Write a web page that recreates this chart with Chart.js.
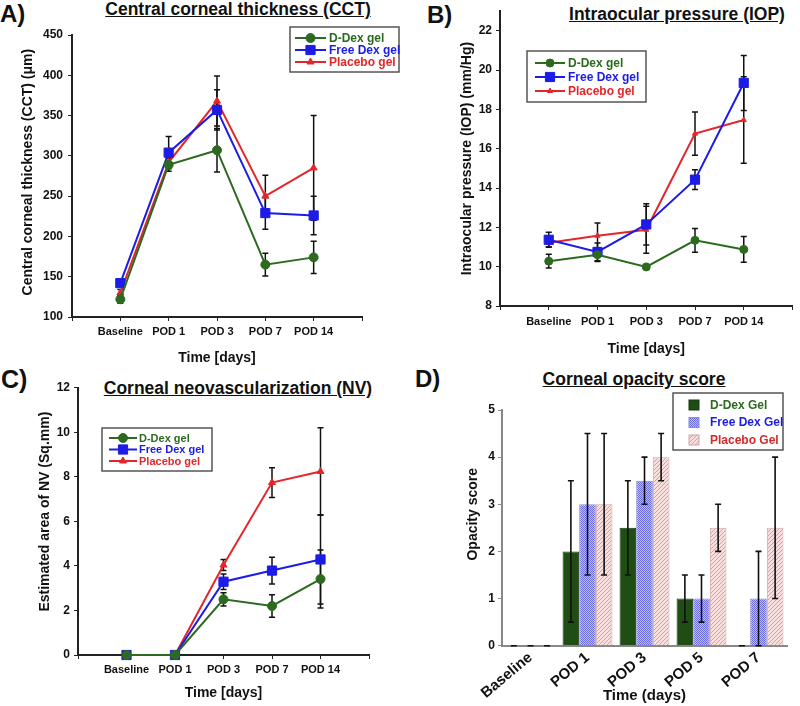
<!DOCTYPE html>
<html>
<head>
<meta charset="utf-8">
<script src="https://cdn.jsdelivr.net/npm/chart.js@4.4.1/dist/chart.umd.min.js"></script>
<style>
body { margin: 0; background: #fff; width: 800px; height: 706px; position: relative; overflow: hidden; font-family: "Liberation Sans", Arial, sans-serif; }
.wrap { position: absolute; }
.lbl { position: absolute; font-weight: bold; font-size: 24px; line-height: 26px; color: #111; }
.ttl { position: absolute; font-weight: bold; font-size: 17.5px; line-height: 20px; text-decoration: underline; color: #111; white-space: nowrap; transform: translateX(-50%); }
</style>
</head>
<body>
<div class="lbl" style="left:0px;top:1px">A)</div>
<div class="lbl" style="left:427px;top:2px">B)</div>
<div class="lbl" style="left:1px;top:366px;font-size:25px">C)</div>
<div class="lbl" style="left:415px;top:366px">D)</div>
<div class="ttl" style="left:238px;top:-1px">Central corneal thickness (CCT)</div>
<div class="ttl" style="left:677px;top:4px">Intraocular pressure (IOP)</div>
<div class="ttl" style="left:238px;top:378px">Corneal neovascularization (NV)</div>
<div class="ttl" style="left:634px;top:369px">Corneal opacity score</div>

<div class="wrap" style="left:0;top:0"><canvas id="cct" width="400" height="370"></canvas></div>
<div class="wrap" style="left:400px;top:0"><canvas id="iop" width="400" height="360"></canvas></div>
<div class="wrap" style="left:0;top:360px"><canvas id="nv" width="400" height="346"></canvas></div>
<div class="wrap" style="left:400px;top:360px"><canvas id="opa" width="400" height="346"></canvas></div>

<script>
// time points
const days = ['Baseline', 'POD 1', 'POD 3', 'POD 7', 'POD 14'];
const opaDays = ['Baseline', 'POD 1', 'POD 3', 'POD 5', 'POD 7'];

// A) central corneal thickness (um)
const cctDDex = [122, 289, 307, 165, 174];
const cctDDexErr = [5, 8, 27, 14, 20];
const cctFree = [142, 304, 357, 229, 226];
const cctFreeErr = [4, 20, 25, 20, 24];
const cctPlacebo = [130, 292, 368, 250, 285];
const cctPlaceboErr = [4, 6, 31, 26, 65];

// B) intraocular pressure (mm/Hg)
const iopDDex = [10.28, 10.61, 9.99, 11.34, 10.88];
const iopDDexErr = [0.35, 0.35, 0.1, 0.6, 0.65];
const iopFree = [11.37, 10.75, 12.15, 14.43, 19.35];
const iopFreeErr = [0.38, 0.45, 1.05, 0.5, 1.4];
const iopPlacebo = [11.22, 11.58, 11.88, 16.77, 17.46];
const iopPlaceboErr = [0.2, 0.64, 1.2, 1.1, 2.2];

// C) neovascularization area (sq.mm)
const nvDDex = [0, 0, 2.5, 2.2, 3.41];
const nvDDexErr = [0, 0, 0.3, 0.5, 1.3];
const nvFree = [0, 0, 3.29, 3.79, 4.29];
const nvFreeErr = [0, 0, 0.35, 0.6, 2.0];
const nvPlacebo = [0, 0, 4.04, 7.74, 8.24];
const nvPlaceboErr = [0, 0, 0.25, 0.67, 1.96];

// D) opacity score
const opaDDex = [0, 2, 2.5, 1, 0];
const opaDDexErr = [0, 1.5, 1, 0.5, 0];
const opaFree = [0, 3, 3.5, 1, 1];
const opaFreeErr = [0, 1.5, 0.5, 0.5, 1];
const opaPlacebo = [0, 3, 4, 2.5, 2.5];
const opaPlaceboErr = [0, 1.5, 0.5, 0.5, 1.5];

const green = '#2b6a1f', blue = '#1c1ce6', red = '#e4262b';

Chart.defaults.font.family = '"Liberation Sans", Arial, sans-serif';
Chart.defaults.font.weight = 'bold';
Chart.defaults.color = '#111';
Chart.defaults.animation = false;
Chart.defaults.plugins.legend.display = false;
Chart.defaults.plugins.tooltip.enabled = false;

// vertical error bars with caps
function drawErrors(chart, o) {
  const ctx = chart.ctx, ys = chart.scales.y;
  ctx.save();
  ctx.strokeStyle = '#111';
  ctx.lineWidth = o.width || 1.5;
  chart.data.datasets.forEach((ds, i) => {
    const meta = chart.getDatasetMeta(i);
    (ds.errors || []).forEach((e, j) => {
      if (e == null) return;
      const raw = ds.data[j];
      const v = typeof raw === 'object' ? raw.y : raw;
      const x = meta.data[j].x;
      const y1 = ys.getPixelForValue(v + e), y2 = ys.getPixelForValue(v - e);
      const c = o.cap || 3;
      ctx.beginPath();
      ctx.moveTo(x, y1); ctx.lineTo(x, y2);
      ctx.moveTo(x - c, y1); ctx.lineTo(x + c, y1);
      ctx.moveTo(x - c, y2); ctx.lineTo(x + c, y2);
      ctx.stroke();
    });
  });
  ctx.restore();
}
const errorBars = {
  id: 'errorBars',
  beforeDatasetsDraw(chart, args, o) { if (!o.after) drawErrors(chart, o); },
  afterDatasetsDraw(chart, args, o) { if (o.after) drawErrors(chart, o); }
};

// legend drawn inside the plot, in a framed box
const boxLegend = {
  id: 'boxLegend',
  afterDraw(chart, args, o) {
    const ctx = chart.ctx;
    ctx.save();
    ctx.fillStyle = '#fff';
    ctx.fillRect(o.x, o.y, o.w, o.h);
    ctx.strokeStyle = '#555';
    ctx.lineWidth = 1.5;
    ctx.strokeRect(o.x, o.y, o.w, o.h);
    ctx.font = 'bold ' + o.size + 'px "Liberation Sans", Arial, sans-serif';
    ctx.textBaseline = 'middle';
    chart.data.datasets.forEach((ds, i) => {
      const cy = o.y + o.first + i * o.row;
      if (o.bars) {
        ctx.fillStyle = ds.backgroundColor;
        ctx.fillRect(o.x + o.sx, cy - 5, 10, 10);
        ctx.strokeStyle = ds.borderColor;
        ctx.lineWidth = 1;
        ctx.strokeRect(o.x + o.sx, cy - 5, 10, 10);
      } else {
        ctx.strokeStyle = ds.borderColor;
        ctx.lineWidth = 2;
        ctx.beginPath();
        ctx.moveTo(o.x + o.l0, cy); ctx.lineTo(o.x + o.l1, cy);
        ctx.stroke();
        ctx.fillStyle = ds.borderColor;
        ctx.lineWidth = 1;
        Chart.helpers.drawPoint(ctx, { pointStyle: ds.pointStyle, radius: ds.pointRadius, rotation: 0, borderWidth: 1 },
          o.x + (o.l0 + o.l1) / 2, cy);
      }
      ctx.fillStyle = ds.textColor || ds.borderColor;
      ctx.fillText(ds.label, o.x + o.tx, cy + 0.5);
    });
    ctx.restore();
  }
};

function pts(vals) { return vals.map((v, i) => ({ x: i + 1, y: v })); }

function lineSet(label, color, style, r, vals, errs) {
  return {
    label: label, data: pts(vals), errors: errs,
    borderColor: color, backgroundColor: color, borderWidth: 2,
    pointStyle: style, pointRadius: r, pointBackgroundColor: color, pointBorderColor: color,
    pointBorderWidth: 1, tension: 0, clip: false
  };
}

function lineChart(id, c) {
  return new Chart(document.getElementById(id), {
    type: 'line',
    data: { datasets: c.sets },
    options: {
      responsive: false,
      layout: { padding: c.pad },
      scales: {
        x: {
          type: 'linear', min: 0, max: 6,
          ticks: { stepSize: 1, autoSkip: false, maxRotation: 0, font: { size: 11 }, padding: c.xTickPad,
            callback: v => days[v - 1] || '' },
          grid: { drawOnChartArea: false, tickLength: 4, color: '#222' },
          border: { color: '#222', width: 2 },
          title: { display: true, text: 'Time [days]', font: { size: 14 }, padding: { top: 0, bottom: c.xTitlePad } },
          afterFit: s => { s.height = c.xH; }
        },
        y: {
          min: c.ymin, max: c.ymax,
          ticks: { stepSize: c.step, includeBounds: false, font: { size: 12 }, padding: c.yTickPad },
          grid: { drawOnChartArea: false, tickLength: 4, color: '#222' },
          border: { color: '#222', width: 2 },
          title: { display: true, text: c.yTitle, font: { size: 14 }, padding: { top: c.yTitlePad, bottom: 0 } },
          afterFit: s => { s.width = c.yW; }
        }
      },
      plugins: {
        errorBars: { cap: 3 },
        boxLegend: c.legend
      }
    },
    plugins: [errorBars, boxLegend]
  });
}

lineChart('cct', {
  sets: [
    lineSet('D-Dex gel', green, 'circle', 4.5, cctDDex, cctDDexErr),
    lineSet('Free Dex gel', blue, 'rect', 6.5, cctFree, cctFreeErr),
    lineSet('Placebo gel', red, 'triangle', 4, cctPlacebo, cctPlaceboErr)
  ],
  pad: { left: 0, right: 38, top: 35, bottom: 0 },
  ymin: 100, ymax: 450, step: 50,
  yW: 72, xH: 53, yTitlePad: 19.6, xTitlePad: 3.6, xTickPad: 4, yTickPad: 5,
  yTitle: '  Central corneal thickness (CCT) (\u03bcm)',
  legend: { x: 290, y: 27, w: 109, h: 45, first: 11, row: 12, size: 12, l0: 5, l1: 36, tx: 39 }
});

lineChart('iop', {
  sets: [
    lineSet('D-Dex gel', green, 'circle', 4, iopDDex, iopDDexErr),
    lineSet('Free Dex gel', blue, 'rect', 6.5, iopFree, iopFreeErr),
    lineSet('Placebo gel', red, 'triangle', 3, iopPlacebo, iopPlaceboErr)
  ],
  pad: { left: 0, right: 2, top: 9.5, bottom: 0 },
  ymin: 8, ymax: 23, step: 2,
  yW: 100, xH: 54, yTitlePad: 58.6, xTitlePad: 2.6, xTickPad: 5, yTickPad: 4,
  yTitle: 'Intraocular pressure (IOP) (mm/Hg)',
  legend: { x: 127, y: 51, w: 119, h: 51, first: 12, row: 14, size: 12, l0: 8, l1: 38, tx: 41 }
});

lineChart('nv', {
  sets: [
    lineSet('D-Dex gel', green, 'circle', 4.5, nvDDex, nvDDexErr),
    lineSet('Free Dex gel', blue, 'rect', 6.5, nvFree, nvFreeErr),
    lineSet('Placebo gel', red, 'triangle', 4, nvPlacebo, nvPlaceboErr)
  ],
  pad: { left: 0, right: 31, top: 27.7, bottom: 0 },
  ymin: 0, ymax: 12, step: 2,
  yW: 78, xH: 51, yTitlePad: 36.6, xTitlePad: 4.6, xTickPad: 4, yTickPad: 4,
  yTitle: '     Estimated area of NV (Sq.mm)',
  legend: { x: 102, y: 68, w: 110, h: 43, first: 10, row: 11.5, size: 11, l0: 7, l1: 35, tx: 37 }
});

// hatched fills for the bar chart
function hatch(bg, fg, kind) {
  const c = document.createElement('canvas');
  c.width = 4; c.height = 4;
  const g = c.getContext('2d');
  g.fillStyle = bg; g.fillRect(0, 0, 4, 4);
  g.fillStyle = fg;
  if (kind === 'check') {
    g.fillRect(0, 0, 1, 1); g.fillRect(2, 0, 1, 1); g.fillRect(1, 1, 1, 1); g.fillRect(3, 1, 1, 1);
    g.fillRect(0, 2, 1, 1); g.fillRect(2, 2, 1, 1); g.fillRect(1, 3, 1, 1); g.fillRect(3, 3, 1, 1);
  } else {
    for (let i = 0; i < 4; i++) g.fillRect(3 - i, i, 1, 1);
  }
  return g.createPattern(c, 'repeat');
}

function barSet(label, fill, border, text, vals, errs) {
  return { label: label, data: vals, errors: errs, backgroundColor: fill, borderColor: border, borderWidth: 1, textColor: text };
}

new Chart(document.getElementById('opa'), {
  type: 'bar',
  data: {
    labels: opaDays,
    datasets: [
      barSet('D-Dex Gel', '#1f4d13', '#17380e', green, opaDDex, opaDDexErr),
      barSet('Free Dex Gel', hatch('#bcbcf6', '#6c6ce6', 'check'), '#8a8ad0', blue, opaFree, opaFreeErr),
      barSet('Placebo Gel', hatch('#f9dede', '#e29a9a', 'diag'), '#cfa4a4', '#d42a2a', opaPlacebo, opaPlaceboErr)
    ]
  },
  options: {
    responsive: false,
    layout: { padding: { left: 0, right: 13, top: 50, bottom: 0 } },
    datasets: { bar: { barPercentage: 1, categoryPercentage: 0.875 } },
    scales: {
      x: {
        ticks: { minRotation: 40, maxRotation: 40, autoSkip: false, font: { size: 15 }, padding: 3 },
        grid: { display: false, drawTicks: false },
        border: { color: '#888', width: 2 },
        title: { display: true, text: 'Time (days)', font: { size: 15 }, padding: { top: 0, bottom: 1 } },
        afterFit: s => { s.height = 60.3; }
      },
      y: {
        min: 0, max: 5,
        ticks: { stepSize: 1, font: { size: 12 }, padding: 3 },
        grid: { drawOnChartArea: false, tickLength: 4, color: '#888' },
        border: { color: '#888', width: 2 },
        title: { display: true, text: '       Opacity score', font: { size: 14 }, padding: { top: 64.6, bottom: 0 } },
        afterFit: s => { s.width = 102; }
      }
    },
    plugins: {
      errorBars: { cap: 3, after: true, width: 1.6 },
      boxLegend: { x: 273, y: 33, w: 110, h: 57, bars: true, first: 12, row: 17.5, size: 12, sx: 16, tx: 37 }
    }
  },
  plugins: [errorBars, boxLegend]
});
</script>
</body>
</html>
